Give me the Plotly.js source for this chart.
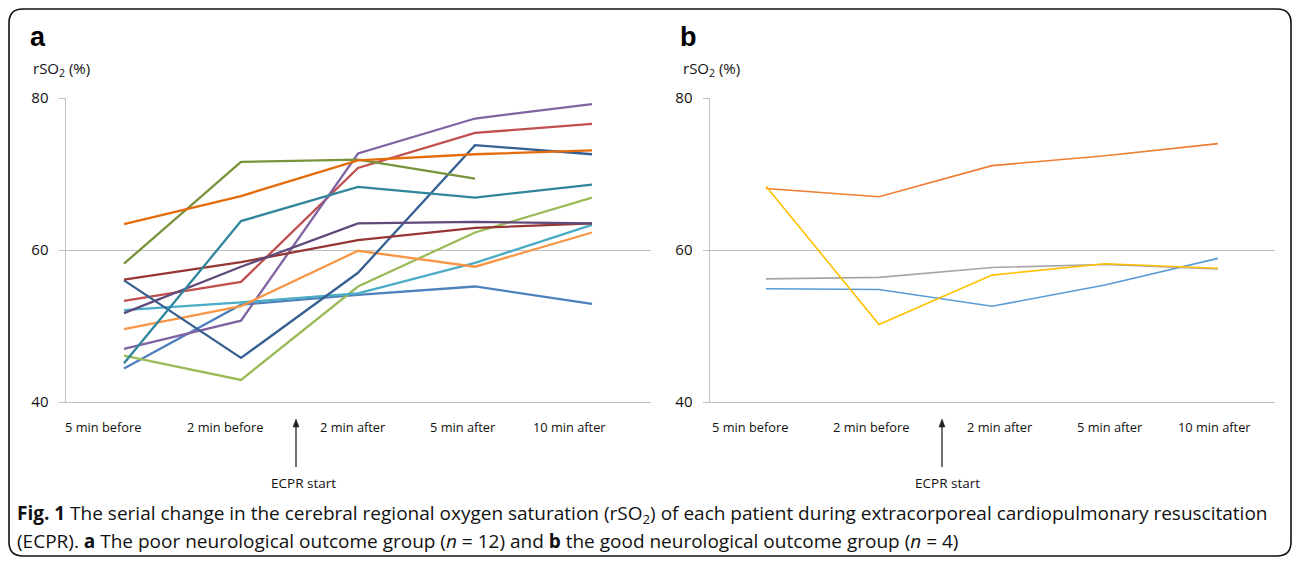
<!DOCTYPE html>
<html>
<head>
<meta charset="utf-8">
<script src="https://cdn.plot.ly/plotly-3.0.1.min.js"></script>
<style>
  html, body { margin: 0; padding: 0; background: #ffffff; }
  #chart { width: 1292px; height: 563px; }
</style>
</head>
<body>
<div id="chart"></div>
<script>
// ---------- data ----------
const categories = ["5 min before", "2 min before", "2 min after", "5 min after", "10 min after"];
const tickLabels = ["5 min before", "2 min before", "2 min after", "5 min after", "10 min after"];
const yTicks = [40, 60, 80];

// Panel a: poor neurological outcome group (n = 12)
const poor01 = [44.4, 52.8, 54.1, 55.2, 52.9];
const poor02 = [53.3, 55.8, 70.8, 75.4, 76.6];
const poor03 = [46.1, 42.9, 55.2, 62.3, 66.9];
const poor04 = [47.0, 50.7, 72.7, 77.3, 79.2];
const poor05 = [52.1, 53.1, 54.3, 58.3, 63.3];
const poor06 = [49.6, 52.6, 59.9, 57.8, 62.3];
const poor07 = [56.0, 45.8, 57.0, 73.8, 72.6];
const poor08 = [56.1, 58.4, 61.3, 62.9, 63.5];
const poor09 = [58.2, 71.6, 71.9, 69.4, null];
const poor10 = [51.7, 57.8, 63.5, 63.7, 63.5];
const poor11 = [45.1, 63.8, 68.3, 66.9, 68.6];
const poor12 = [63.4, 67.1, 71.8, 72.6, 73.1];

// Panel b: good neurological outcome group (n = 4)
const good01 = [54.9, 54.8, 52.6, 55.4, 58.9];
const good02 = [68.1, 67.0, 71.1, 72.4, 74.0];
const good03 = [56.2, 56.4, 57.7, 58.1, 57.5];
const good04 = [68.4, 50.2, 56.7, 58.2, 57.6];

// ---------- styling ----------
const W = 1292, H = 563;
const px = x => x / W;
const py = y => 1 - y / H;

const poorSeries = [poor01, poor02, poor03, poor04, poor05, poor06, poor07, poor08, poor09, poor10, poor11, poor12];
const poorColors = ["#4F81BD", "#C0504D", "#9BBB59", "#8064A2", "#4BACC6", "#F79646",
                    "#376092", "#953735", "#77933C", "#604A7B", "#31859C", "#E46C0A"];
const goodSeries = [good01, good02, good03, good04];
const goodColors = ["#5B9BD5", "#ED7D31", "#A5A5A5", "#FFC000"];

const traces = [];
poorSeries.forEach((s, i) => traces.push({
  x: categories, y: s, type: "scatter", mode: "lines", xaxis: "x", yaxis: "y",
  line: { color: poorColors[i], width: 2.3 }, connectgaps: false, hoverinfo: "y", showlegend: false
}));
goodSeries.forEach((s, i) => traces.push({
  x: categories, y: s, type: "scatter", mode: "lines", xaxis: "x2", yaxis: "y2",
  line: { color: goodColors[i], width: 1.6 }, connectgaps: false, hoverinfo: "y", showlegend: false
}));

const gridCol = "#BFBFBF";
const tickFont = { family: "Open Sans, Liberation Sans, sans-serif", size: 15, color: "#111" };
const labelFont = { family: "Open Sans, Liberation Sans, sans-serif", size: 12.8, color: "#111" };

function xAxis(domain, anchor) {
  return {
    domain: domain, anchor: anchor, type: "category", categoryorder: "array", categoryarray: categories,
    range: [-0.5, 4.5], showticklabels: false, ticks: "", showgrid: false, zeroline: false,
    showline: true, linecolor: gridCol, linewidth: 1, fixedrange: true
  };
}
function yAxis(anchor) {
  return {
    domain: [py(402), py(98)], anchor: anchor, range: [40, 80], tickvals: yTicks,
    ticktext: yTicks.map(String), ticks: "outside", ticklen: 6, tickcolor: gridCol, tickwidth: 1,
    ticklabelstandoff: 7,
    tickfont: tickFont, showgrid: true, gridcolor: gridCol, gridwidth: 1, zeroline: false,
    showline: true, linecolor: gridCol, linewidth: 1, fixedrange: true
  };
}

const aLabelX = [102.5, 224.5, 353, 463, 569];
const bLabelX = [749.5, 871, 1000, 1109.5, 1214];

const annotations = [];
tickLabels.forEach((t, i) => {
  annotations.push({ text: t, xref: "paper", yref: "paper", x: px(aLabelX[i]), y: py(427),
    xanchor: "center", yanchor: "middle", showarrow: false, font: labelFont });
  annotations.push({ text: t, xref: "paper", yref: "paper", x: px(bLabelX[i]), y: py(427),
    xanchor: "center", yanchor: "middle", showarrow: false, font: labelFont });
});

// ECPR start arrows (shapes) and labels
const shapes = [];
[[296, 303], [942, 947]].forEach(([ax, tx]) => {
  shapes.push({ type: "line", xref: "paper", yref: "paper", x0: px(ax), x1: px(ax), y0: py(467), y1: py(425),
    line: { color: "#222", width: 1.3 } });
  shapes.push({ type: "path", xref: "paper", yref: "paper",
    path: `M ${px(ax)} ${py(419)} L ${px(ax - 3)} ${py(427)} L ${px(ax + 3)} ${py(427)} Z`,
    fillcolor: "#222", line: { color: "#222", width: 0.5 } });
  annotations.push({ text: "ECPR start", xref: "paper", yref: "paper", x: px(tx), y: py(483),
    xanchor: "center", yanchor: "middle", showarrow: false, font: { family: labelFont.family, size: 13.5, color: "#111" } });
});

// Panel letters and y-axis titles
[["a", 30], ["b", 680]].forEach(([t, x]) => {
  annotations.push({ text: "<b>" + t + "</b>", xref: "paper", yref: "paper", x: px(x - 2), y: py(37),
    xanchor: "left", yanchor: "middle", showarrow: false,
    font: { family: "Liberation Sans, Arial, sans-serif", size: 27, color: "#000" } });
  annotations.push({ text: "rSO<sub>2</sub> (%)", xref: "paper", yref: "paper", x: px(x + 1), y: py(69),
    xanchor: "left", yanchor: "middle", showarrow: false,
    font: { family: "Open Sans, Liberation Sans, sans-serif", size: 15, color: "#111" } });
});

// Caption
const capFont = { family: "Open Sans, Noto Sans, sans-serif", size: 19, color: "#111" };
annotations.push({ text: "<b>Fig. 1</b> The serial change in the cerebral regional oxygen saturation (rSO<sub>2</sub>) of each patient during extracorporeal cardiopulmonary resuscitation",
  xref: "paper", yref: "paper", x: px(15), y: py(514), xanchor: "left", yanchor: "middle", showarrow: false, font: capFont });
annotations.push({ text: "(ECPR). <b>a</b> The poor neurological outcome group (<i>n</i> = 12) and <b>b</b> the good neurological outcome group (<i>n</i> = 4)",
  xref: "paper", yref: "paper", x: px(15), y: py(541), xanchor: "left", yanchor: "middle", showarrow: false, font: capFont });

// Rounded frame
const L = 9, T = 9, R = 1291, B = 556, r = 14;
const framePath =
  `M ${px(L + r)} ${py(T)} L ${px(R - r)} ${py(T)} Q ${px(R)} ${py(T)} ${px(R)} ${py(T + r)} ` +
  `L ${px(R)} ${py(B - r)} Q ${px(R)} ${py(B)} ${px(R - r)} ${py(B)} ` +
  `L ${px(L + r)} ${py(B)} Q ${px(L)} ${py(B)} ${px(L)} ${py(B - r)} ` +
  `L ${px(L)} ${py(T + r)} Q ${px(L)} ${py(T)} ${px(L + r)} ${py(T)} Z`;
shapes.push({ type: "path", xref: "paper", yref: "paper", path: framePath,
  line: { color: "#111", width: 1.6 }, fillcolor: "rgba(0,0,0,0)" });

const layout = {
  width: W, height: H,
  margin: { l: 0, r: 0, t: 0, b: 0 },
  paper_bgcolor: "#ffffff", plot_bgcolor: "rgba(0,0,0,0)",
  showlegend: false,
  xaxis: xAxis([px(65.5), px(650.5)], "y"),
  yaxis: yAxis("x"),
  xaxis2: xAxis([px(709.5), px(1274.5)], "y2"),
  yaxis2: yAxis("x2"),
  annotations: annotations,
  shapes: shapes
};

Plotly.newPlot("chart", traces, layout, { displayModeBar: false, staticPlot: true });
</script>
</body>
</html>
